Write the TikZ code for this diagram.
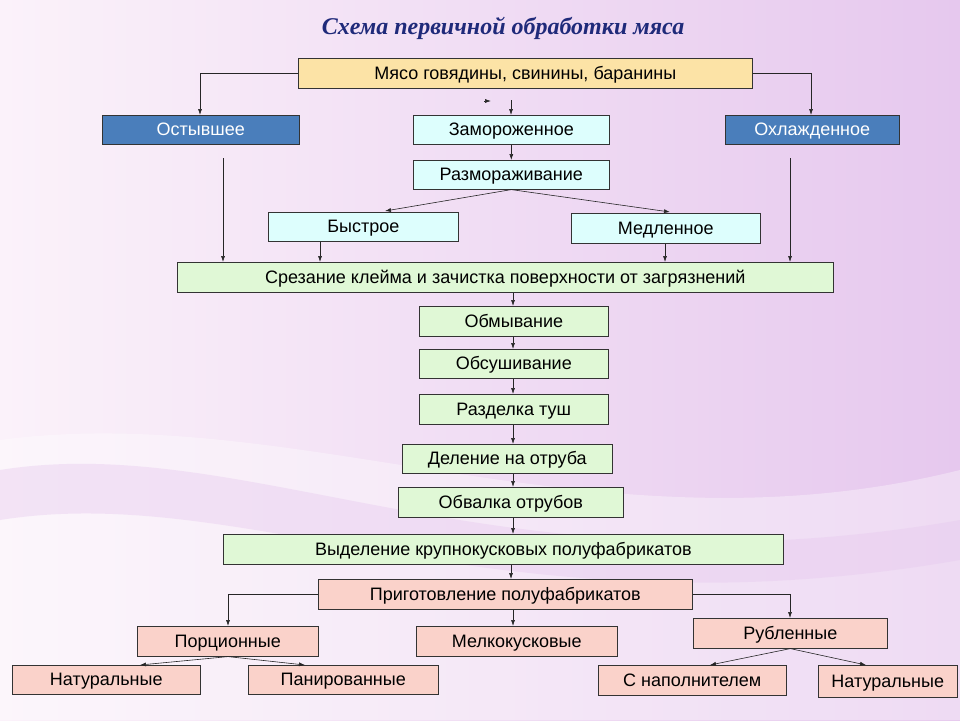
\documentclass[tikz,border=0pt]{standalone}
\usepackage{fontspec}
\setmainfont{Liberation Sans}
\newfontfamily\titlefont{Liberation Serif}
\usetikzlibrary{arrows.meta}
\definecolor{bgA}{HTML}{FBF2FA}
\definecolor{bgB}{HTML}{E6C8EE}
\definecolor{yel}{HTML}{FCE3A6}
\definecolor{blu}{HTML}{4A7EBB}
\definecolor{cya}{HTML}{DDFEFD}
\definecolor{grn}{HTML}{E0F8D6}
\definecolor{pnk}{HTML}{FAD2CA}
\definecolor{ttl}{HTML}{1F2A7A}
\tikzset{
 bx/.style={draw=black!80, line width=0.6pt},
 ar/.style={draw=black!85, line width=0.6pt, -{Latex[length=6pt,width=4pt]}},
 b/.style={bx, draw, anchor=north west, inner sep=0pt},
 tx/.style={font=\fontsize{18}{20}\selectfont, inner sep=0pt, anchor=base, yshift=-6pt},
}
\begin{document}
\begin{tikzpicture}[x=1pt,y=-1pt]
\useasboundingbox (0,0) rectangle (960,720);
\shade[left color=bgA, right color=bgB] (0,0) rectangle (960,720);
\fill[white,opacity=0.35] (0,440) .. controls (300,400) and (600,560) .. (960,470) -- (960,720) -- (0,720) -- cycle;
\fill[bgB,opacity=0.4] (0,470) .. controls (250,430) and (500,600) .. (960,520) -- (960,560) .. controls (500,640) and (250,480) .. (0,520) -- cycle;
\node[font=\titlefont\bfseries\itshape\fontsize{24}{26}\selectfont, text=ttl] (title) at (503,28) {Схема первичной обработки мяса};
\def\B#1#2#3#4#5#6#7#8{\node[b, fill=#2, minimum width={#5-#3}, minimum height={#6-#4}] (#1) at (#3,#4) {};
 \node[tx, text=#8] (#1t) at (#1.center) {#7};}
\B{meat}{yel}{298}{58}{752}{88}{Мясо говядины, свинины, баранины}{black}
\B{ost}{blu}{102}{115}{299}{144}{Остывшее}{white}
\B{zam}{cya}{413}{115}{609}{144}{Замороженное}{black}
\B{ohl}{blu}{725}{115}{899}{144}{Охлажденное}{white}
\B{razm}{cya}{413}{160}{609}{189}{Размораживание}{black}
\B{byst}{cya}{268}{212}{458}{241}{Быстрое}{black}
\B{medl}{cya}{571}{213}{760}{243}{Медленное}{black}
\B{srez}{grn}{177}{262}{833}{292}{Срезание клейма и зачистка поверхности от загрязнений}{black}
\B{obm}{grn}{419}{306}{608}{336}{Обмывание}{black}
\B{obs}{grn}{419}{349}{608}{378}{Обсушивание}{black}
\B{razd}{grn}{419}{394}{608}{424}{Разделка туш}{black}
\B{del}{grn}{402}{444}{612}{473}{Деление на отруба}{black}
\B{obv}{grn}{398}{487}{623}{517}{Обвалка отрубов}{black}
\B{vyd}{grn}{223}{534}{783}{564}{Выделение крупнокусковых полуфабрикатов}{black}
\B{prig}{pnk}{318}{579}{692}{609}{Приготовление полуфабрикатов}{black}
\B{porc}{pnk}{137}{626}{318}{656}{Порционные}{black}
\B{melk}{pnk}{416}{626}{617}{656}{Мелкокусковые}{black}
\B{rubl}{pnk}{693}{618}{887}{648}{Рубленные}{black}
\B{nat1}{pnk}{12}{665}{200}{694}{Натуральные}{black}
\B{pan}{pnk}{248}{665}{438}{694}{Панированные}{black}
\B{snap}{pnk}{598}{665}{786}{695}{С наполнителем}{black}
\B{nat2}{pnk}{818}{665}{957}{697}{Натуральные}{black}
% connectors
\draw[ar] (meat.west) -| (ost.north -| 200,0);
\draw[ar] (meat.east) -| (ohl.north -| 811,0);
\coordinate (zs) at (511,100);
\draw[ar] (zs) -- (zam.north -| zs);
\coordinate (tk) at (484,101);
\draw[ar] (tk) -- ++(7,0);
\draw[ar] (zam.south) -- (razm.north);
\draw[ar] (razm.south) -- (385,211);
\draw[ar] (razm.south) -- (670,212);
\coordinate (os) at (223,158);
\draw[ar] (os) -- (srez.north -| os);
\coordinate (ohs) at (790,158);
\draw[ar] (ohs) -- (srez.north -| ohs);
\draw[ar] (byst.south -| 320,0) -- (srez.north -| 320,0);
\draw[ar] (medl.south -| 665,0) -- (srez.north -| 665,0);
\draw[ar] (srez.south -| 513,0) -- (obm.north -| 513,0);
\draw[ar] (obm.south -| 513,0) -- (obs.north -| 513,0);
\draw[ar] (obs.south -| 513,0) -- (razd.north -| 513,0);
\draw[ar] (razd.south -| 513,0) -- (del.north -| 513,0);
\draw[ar] (del.south -| 513,0) -- (obv.north -| 513,0);
\draw[ar] (obv.south -| 513,0) -- (vyd.north -| 513,0);
\draw[ar] (vyd.south -| 511,0) -- (prig.north -| 511,0);
\draw[ar] (prig.west) -| (porc.north -| 228,0);
\draw[ar] (prig.east) -| (rubl.north -| 790,0);
\draw[ar] (prig.south -| 513,0) -- (melk.north -| 513,0);
\draw[ar] (porc.south -| 228,0) -- (140,665);
\draw[ar] (porc.south -| 228,0) -- (305,665);
\draw[ar] (rubl.south) -- (710,665);
\draw[ar] (rubl.south) -- (866,665);
\end{tikzpicture}
\end{document}
